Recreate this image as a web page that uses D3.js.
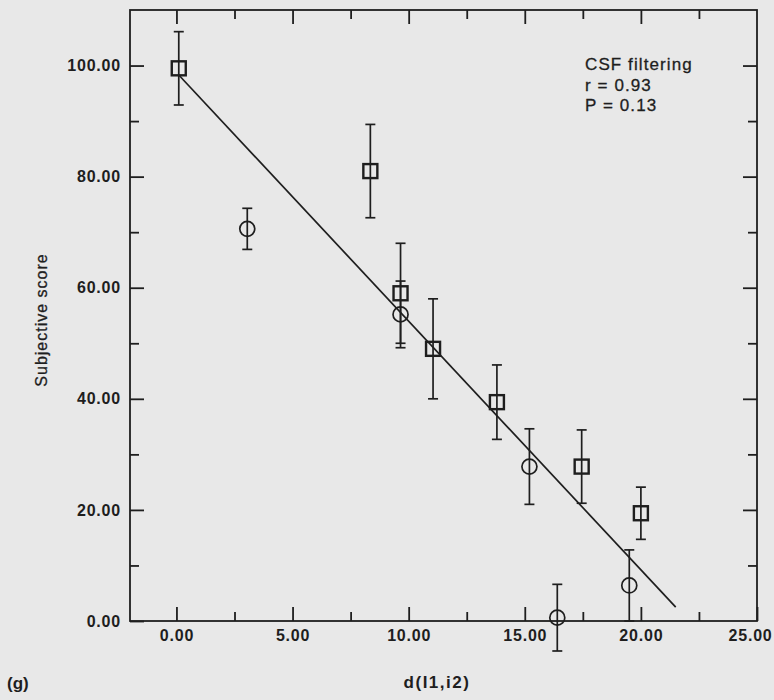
<!DOCTYPE html>
<html>
<head>
<meta charset="utf-8">
<script src="https://cdn.jsdelivr.net/npm/d3@7"></script>
<style>
  body { margin: 0; background: #e8e8e8; }
  svg { display: block; }
</style>
</head>
<body>
<div id="chart"></div>
<script>
// values
const squareX = [0.1, 8.35, 9.65, 11.05, 13.8, 17.45, 20.0];
const squareY = [99.5, 81.0, 59.0, 49.0, 39.4, 27.8, 19.4];
const squareErr = [6.6, 8.4, 9.0, 9.0, 6.7, 6.6, 4.7];

const circleX = [3.05, 9.65, 15.2, 16.4, 19.5];
const circleY = [70.6, 55.2, 27.8, 0.6, 6.4];
const circleErr = [3.7, 6.0, 6.8, 6.0, 6.4];

const fitX = [0.1, 21.5];
const fitY = [98.3, 2.5];

const xMajor = [0, 5, 10, 15, 20, 25];
const xMinor = [2.5, 7.5, 12.5, 17.5, 22.5];
const yMajor = [0, 20, 40, 60, 80, 100];
const yMinor = [10, 30, 50, 70, 90];

const notes = ["CSF filtering", "r = 0.93", "P = 0.13"];

const width = 774, height = 700;
const plotLeft = 130, plotRight = 757, plotTop = 10, plotBottom = 621;
const ink = "#1e1e1e";

const x = d3.scaleLinear().domain([-2, 25]).range([plotLeft, plotRight]);
const y = d3.scaleLinear().domain([0, 110]).range([plotBottom, plotTop]);
const fmt = d3.format(".2f");

const svg = d3.select("#chart").append("svg")
    .attr("width", width)
    .attr("height", height)
    .style("font-family", "'Liberation Sans', Arial, sans-serif");

svg.append("rect")
    .attr("width", width).attr("height", height)
    .attr("fill", "#e8e8e8");

// frame
svg.append("rect")
    .attr("x", plotLeft).attr("y", plotTop)
    .attr("width", plotRight - plotLeft).attr("height", plotBottom - plotTop)
    .attr("fill", "none")
    .attr("stroke", ink)
    .attr("stroke-width", 1.8);

// ticks on all four sides, pointing inward
function ticks(axis, values, size, labels, translate) {
  const g = svg.append("g")
      .attr("transform", translate)
      .call(axis.tickValues(values).tickSize(-size).tickPadding(labels ? 9 : 0)
        .tickFormat(labels ? fmt : ""));
  g.select(".domain").remove();
  g.selectAll(".tick line").attr("stroke", ink).attr("stroke-width", 1.8);
  g.selectAll(".tick text")
      .attr("fill", ink)
      .style("font-size", "16px")
      .style("font-weight", "bold")
      .style("letter-spacing", "0.8px");
  return g;
}

const xAxisG = ticks(d3.axisBottom(x), xMajor, 14, true, `translate(0,${plotBottom})`);
// the last label sits against the page edge, as in the scan
xAxisG.selectAll(".tick text").filter(d => d === 25).attr("dx", -7);
ticks(d3.axisBottom(x), xMinor, 9, false, `translate(0,${plotBottom})`);
ticks(d3.axisTop(x), xMajor.slice(0, -1), 14, false, `translate(0,${plotTop})`);
ticks(d3.axisTop(x), xMinor, 9, false, `translate(0,${plotTop})`);
ticks(d3.axisLeft(y), yMajor, 14, true, `translate(${plotLeft},0)`);
ticks(d3.axisLeft(y), yMinor, 9, false, `translate(${plotLeft},0)`);
ticks(d3.axisRight(y), yMajor.slice(1), 14, false, `translate(${plotRight},0)`);
ticks(d3.axisRight(y), yMinor, 9, false, `translate(${plotRight},0)`);

// regression line
svg.append("line")
    .attr("x1", x(fitX[0])).attr("y1", y(fitY[0]))
    .attr("x2", x(fitX[1])).attr("y2", y(fitY[1]))
    .attr("stroke", ink)
    .attr("stroke-width", 1.7);

// error bars
function errorBars(xs, ys, es) {
  const g = svg.append("g").attr("stroke", ink).attr("stroke-width", 1.7);
  xs.forEach((xv, i) => {
    const cx = x(xv), lo = y(ys[i] - es[i]), hi = y(ys[i] + es[i]);
    g.append("line").attr("x1", cx).attr("x2", cx).attr("y1", lo).attr("y2", hi);
    g.append("line").attr("x1", cx - 5).attr("x2", cx + 5).attr("y1", lo).attr("y2", lo);
    g.append("line").attr("x1", cx - 5).attr("x2", cx + 5).attr("y1", hi).attr("y2", hi);
  });
}
errorBars(squareX, squareY, squareErr);
errorBars(circleX, circleY, circleErr);

svg.append("g")
  .selectAll("rect")
  .data(squareX)
  .join("rect")
    .attr("x", (d, i) => x(d) - 7)
    .attr("y", (d, i) => y(squareY[i]) - 7)
    .attr("width", 14).attr("height", 14)
    .attr("fill", "none")
    .attr("stroke", ink)
    .attr("stroke-width", 2.4);

svg.append("g")
  .selectAll("circle")
  .data(circleX)
  .join("circle")
    .attr("cx", d => x(d))
    .attr("cy", (d, i) => y(circleY[i]))
    .attr("r", 7.5)
    .attr("fill", "none")
    .attr("stroke", ink)
    .attr("stroke-width", 1.7);

// annotation
svg.append("g")
  .selectAll("text")
  .data(notes)
  .join("text")
    .attr("x", 585)
    .attr("y", (d, i) => 70 + i * 20.5)
    .attr("fill", ink)
    .attr("stroke", ink)
    .attr("stroke-width", 0.3)
    .style("font-size", "17px")
    .style("letter-spacing", "1.1px")
    .text(d => d);

// axis titles
svg.append("text")
    .attr("x", 437)
    .attr("y", 688)
    .attr("text-anchor", "middle")
    .attr("fill", ink)
    .style("font-size", "17px")
    .style("font-weight", "bold")
    .style("letter-spacing", "1.5px")
    .text("d(I1,i2)");

svg.append("text")
    .attr("transform", `translate(47,320) rotate(-90)`)
    .attr("text-anchor", "middle")
    .attr("fill", ink)
    .attr("stroke", ink)
    .attr("stroke-width", 0.3)
    .style("font-size", "16px")
    .style("letter-spacing", "1px")
    .text("Subjective score");

svg.append("text")
    .attr("x", 7)
    .attr("y", 689)
    .attr("fill", ink)
    .style("font-size", "17px")
    .style("font-weight", "bold")
    .text("(g)");
</script>
</body>
</html>
